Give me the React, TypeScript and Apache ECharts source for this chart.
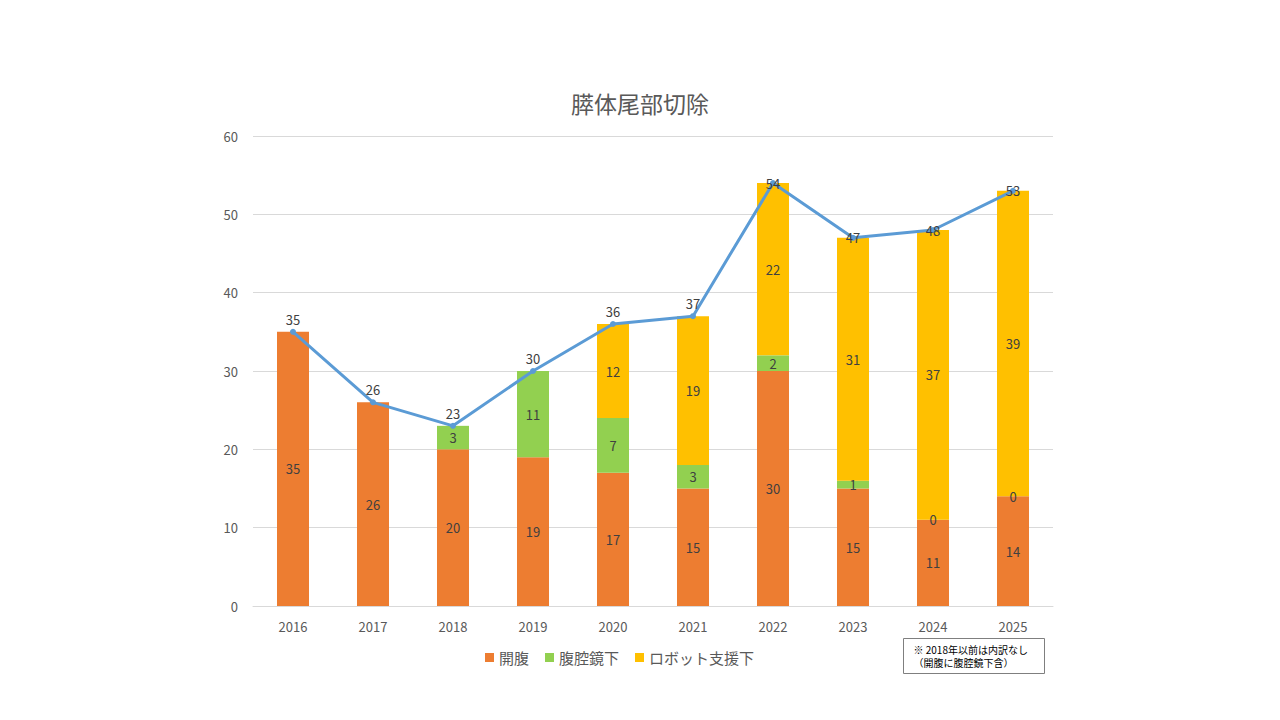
import React, { useEffect, useRef } from "react";
import * as echarts from "echarts";

const years = ["2016", "2017", "2018", "2019", "2020", "2021", "2022", "2023", "2024", "2025"];
const openSurgery = [35, 26, 20, 19, 17, 15, 30, 15, 11, 14];
const laparoscopic = [null, null, 3, 11, 7, 3, 2, 1, 0, 0];
const robotic = [null, null, null, null, 12, 19, 22, 31, 37, 39];
const totals = [35, 26, 23, 30, 36, 37, 54, 47, 48, 53];
// label placement for the total line: above the point early, centred later
const totalLabelPos = ["top", "top", "top", "top", "top", "top", "inside", "inside", "inside", "inside"];

const FONT = '"Noto Sans CJK JP", "Noto Sans", sans-serif';
const GREY = "#595959";

export default function App() {
  const ref = useRef<HTMLDivElement>(null);

  useEffect(() => {
    if (!ref.current) return;
    const chart = echarts.init(ref.current, null, { renderer: "svg" });
    const barLabel = {
      show: true,
      position: "inside",
      color: "#404040",
      fontSize: 13,
      fontFamily: FONT,
    };
    chart.setOption({
      animation: false,
      backgroundColor: "#ffffff",
      textStyle: { fontFamily: FONT },
      title: {
        text: "膵体尾部切除",
        left: "center",
        top: 86,
        textStyle: { fontSize: 23, fontWeight: "normal", color: GREY, fontFamily: FONT },
      },
      legend: {
        left: 480,
        top: 645,
        itemWidth: 9,
        itemHeight: 9,
        itemGap: 16,
        icon: "rect",
        textStyle: { fontSize: 15, color: GREY, fontFamily: FONT },
        data: ["開腹", "腹腔鏡下", "ロボット支援下"],
      },
      grid: { left: 253, right: 227, top: 136, bottom: 114, containLabel: false },
      xAxis: {
        type: "category",
        data: years,
        axisLine: { lineStyle: { color: "#D9D9D9" } },
        axisTick: { show: false },
        axisLabel: { color: GREY, fontSize: 13, margin: 14, fontFamily: FONT },
      },
      yAxis: {
        type: "value",
        min: 0,
        max: 60,
        interval: 10,
        axisLine: { show: false },
        axisTick: { show: false },
        splitLine: { lineStyle: { color: "#D9D9D9" } },
        axisLabel: { color: GREY, fontSize: 13, margin: 15, fontFamily: FONT },
      },
      series: [
        {
          name: "開腹",
          type: "bar",
          stack: "total",
          barWidth: 32,
          itemStyle: { color: "#ED7D31" },
          label: barLabel,
          data: openSurgery,
        },
        {
          name: "腹腔鏡下",
          type: "bar",
          stack: "total",
          barWidth: 32,
          itemStyle: { color: "#92D050" },
          label: barLabel,
          data: laparoscopic,
        },
        {
          name: "ロボット支援下",
          type: "bar",
          stack: "total",
          barWidth: 32,
          itemStyle: { color: "#FFC000" },
          label: barLabel,
          data: robotic,
        },
        {
          name: "合計",
          type: "line",
          symbol: "circle",
          symbolSize: 6,
          itemStyle: { color: "#5B9BD5" },
          lineStyle: { color: "#5B9BD5", width: 3 },
          label: {
            show: true,
            color: "#404040",
            fontSize: 13,
            fontFamily: FONT,
            distance: 3,
          },
          data: totals.map((v, i) => ({
            value: v,
            label: { position: totalLabelPos[i] },
          })),
          z: 5,
        },
      ],
      graphic: [
        {
          type: "group",
          left: 903,
          top: 638,
          children: [
            {
              type: "rect",
              shape: { x: 0, y: 0, width: 141, height: 35 },
              style: { fill: "#ffffff", stroke: "#7F7F7F", lineWidth: 1 },
            },
            {
              type: "text",
              x: 10,
              y: 4,
              style: {
                text: "※ 2018年以前は内訳なし\n（開腹に腹腔鏡下含）",
                fontSize: 10,
                lineHeight: 13,
                fill: "#000000",
                fontFamily: FONT,
              },
            },
          ],
        },
      ],
    });
    return () => chart.dispose();
  }, []);

  return (
    <div
      ref={ref}
      style={{ position: "fixed", left: 0, top: 0, width: 1280, height: 720 }}
    />
  );
}
